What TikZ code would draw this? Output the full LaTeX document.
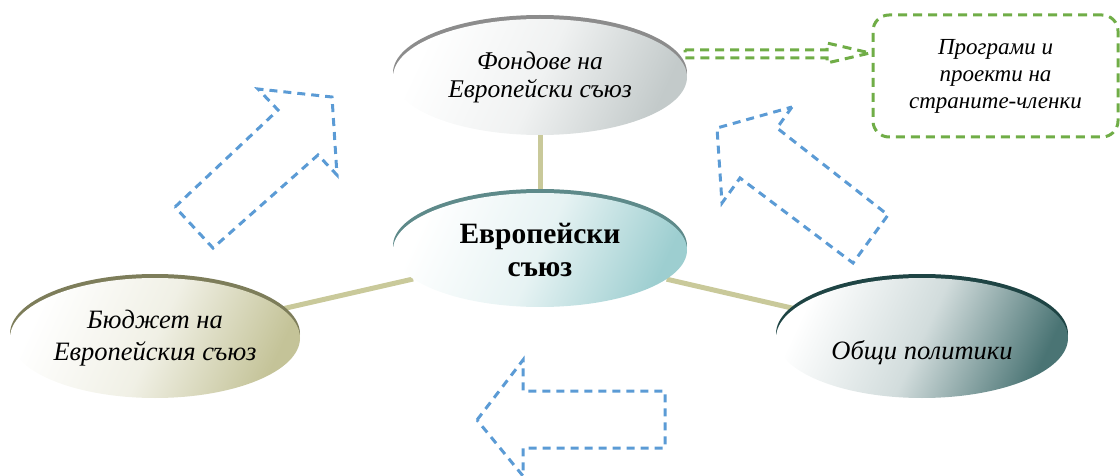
\documentclass[tikz,border=0pt]{standalone}
\usepackage{fontspec}
\setmainfont{Liberation Serif}
\usetikzlibrary{shapes.geometric,shadows,backgrounds}
\definecolor{rimfond}{HTML}{8C8C8C}
\definecolor{shfond}{HTML}{C3CACA}
\definecolor{rimeu}{HTML}{5E8A8A}
\definecolor{sheu}{HTML}{9DCED0}
\definecolor{rimbud}{HTML}{7D7D5A}
\definecolor{shbud}{HTML}{C4C398}
\definecolor{rimpol}{HTML}{1E4444}
\definecolor{shpol}{HTML}{4A7474}
\definecolor{khaki}{HTML}{C9C99A}
\definecolor{dashblue}{HTML}{5B9BD5}
\definecolor{dashgreen}{HTML}{70AD47}
\tikzset{
  blob/.style n args={2}{ellipse, inner sep=0pt, minimum width=294pt, minimum height=116pt,
    drop shadow={shadow xshift=0pt, shadow yshift=4pt, opacity=1, fill=#1},
    top color=#2, bottom color=white, middle color=white!75!#2, shading angle=-115},
  txt/.style={align=center, font=\itshape\fontsize{25.5}{28}\selectfont},
  conn/.style={draw=khaki, line width=5pt},
  bluearrow/.style={draw=dashblue, line width=3pt, dash pattern=on 8pt off 6pt, line join=miter},
  greenline/.style={draw=dashgreen, line width=3pt, dash pattern=on 9pt off 6pt}
}
\begin{document}
\begin{tikzpicture}[x=1pt,y=-1pt]
\useasboundingbox (0,0) rectangle (1120,476);
\node[blob={rimfond}{shfond}, txt] (fond) at (540,77) {Фондове на\\Европейски съюз};
\node[blob={rimeu}{sheu}, align=center, font=\bfseries\fontsize{29.5}{33}\selectfont, minimum height=114pt] (eu) at (540,250) {Европейски\\съюз};
\node[blob={rimbud}{shbud}, txt, font=\itshape\fontsize{26.5}{32}\selectfont, minimum width=290pt, minimum height=120pt] (bud) at (155,338) {Бюджет на\\Европейския съюз};
\node[blob={rimpol}{shpol}, minimum width=292pt, minimum height=120pt] (pol) at (922,338) {};
\node[txt, font=\itshape\fontsize{26.5}{30}\selectfont] (polt) at ([yshift=-15pt]pol.center) {Общи политики};
\node[greenline, rounded corners=16pt, minimum width=245pt, minimum height=122pt, align=center, font=\itshape\fontsize{23}{27}\selectfont] (prog) at (995.5,76) {Програми и\\проекти на\\страните-членки};
\begin{scope}[on background layer]
\draw[conn] (fond) -- (eu);
\draw[conn] (eu) -- (bud);
\draw[conn] (eu) -- (pol);
\end{scope}
% green block arrow
\draw[greenline] (685,50) -- (827,50) -- (827,43) -- (870,53) -- (827,63) -- (827,58) -- (685,58) -- cycle;
% blue block arrows
\draw[bluearrow] (175,207) -- (278,110) -- (258,89) -- (332,97) -- (337,175) -- (318,155) -- (213,248) -- cycle;
\draw[bluearrow] (792,107) -- (777,128) -- (888,215) -- (853,263) -- (740,178) -- (722,203) -- (717,128) -- cycle;
\draw[bluearrow] (477,420) -- (523,360) -- (523,391) -- (665,391) -- (665,448) -- (523,448) -- (523,476) -- cycle;
\end{tikzpicture}
\end{document}
